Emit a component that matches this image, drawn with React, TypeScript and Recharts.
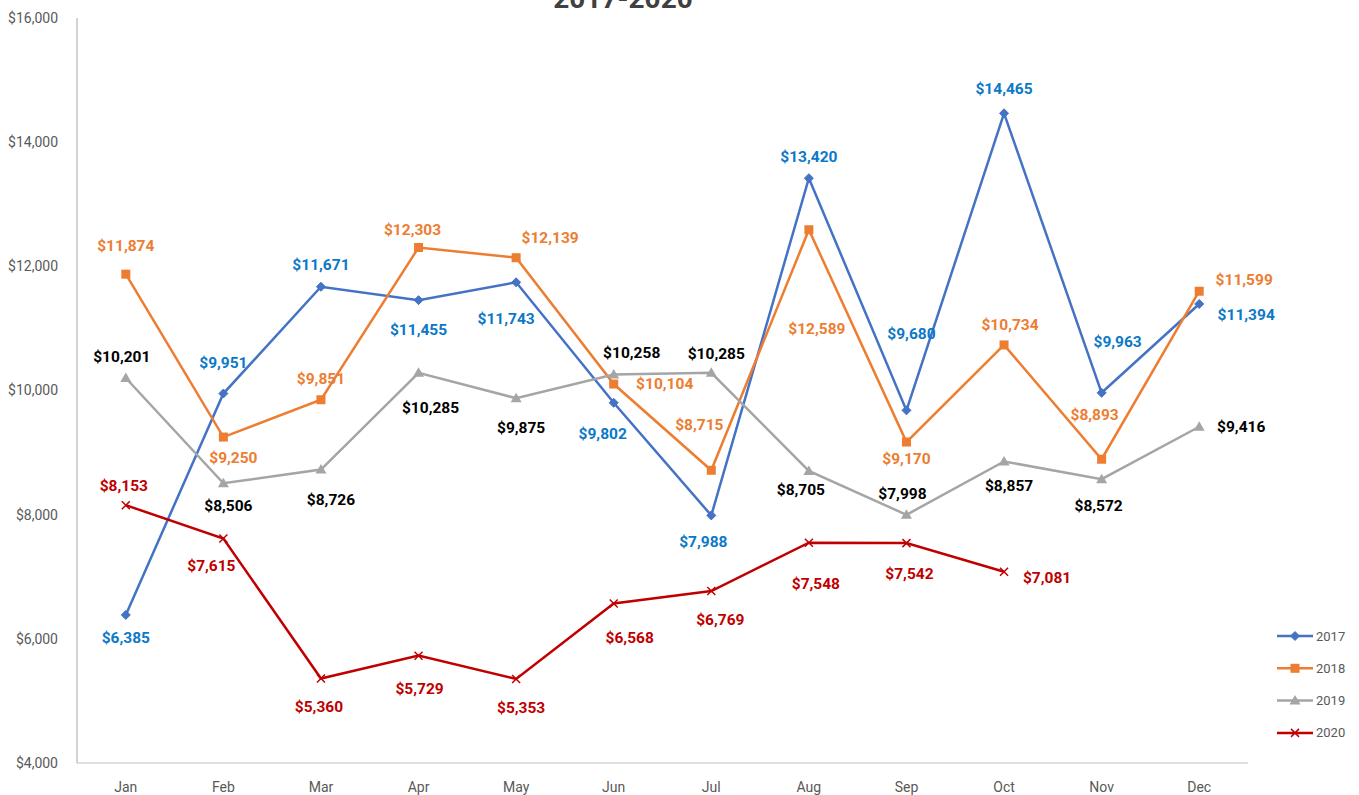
import React from 'react';
import { LineChart, Line, XAxis, YAxis, Legend, LabelList } from 'recharts';

const months = ['Jan', 'Feb', 'Mar', 'Apr', 'May', 'Jun', 'Jul', 'Aug', 'Sep', 'Oct', 'Nov', 'Dec'];
const sales2017 = [6385, 9951, 11671, 11455, 11743, 9802, 7988, 13420, 9680, 14465, 9963, 11394];
const sales2018 = [11874, 9250, 9851, 12303, 12139, 10104, 8715, 12589, 9170, 10734, 8893, 11599];
const sales2019 = [10201, 8506, 8726, 10285, 9875, 10258, 10285, 8705, 7998, 8857, 8572, 9416];
const sales2020: (number | null)[] = [8153, 7615, 5360, 5729, 5353, 6568, 6769, 7548, 7542, 7081, null, null];
const yTicks = [4000, 6000, 8000, 10000, 12000, 14000, 16000];
const title = '2017-2020';

// label placement (layout only): [dx, dy] from the point to the label centre
const off2017 = [[0, 23], [0, -31], [0, -22], [0, 30], [-10, 37], [-11, 31], [-8, 27], [0, -21], [5, -76], [0, -24], [16, -51], [47, 11]];
const off2018 = [[0, -28], [10, 21], [0, -21], [-6, -18], [34, -20], [51, 0], [-12, -45], [8, 99], [0, 17], [6, -20], [-7, -44], [45, -11]];
const off2019 = [[-4, -21], [5, 23], [10, 30], [12, 35], [5, 30], [18, -21], [5, -19], [-8, 19], [-4, -21], [5, 25], [-3, 27], [42, 0]];
const off2020 = [[-2, -19], [-12, 27], [-2, 28], [1, 33], [5, 29], [16, 34], [9, 29], [7, 41], [3, 31], [43, 6]];

const data = months.map((m, i) => ({
  month: m,
  y2017: sales2017[i],
  y2018: sales2018[i],
  y2019: sales2019[i],
  y2020: sales2020[i],
}));

const C17 = '#4472C4';
const C18 = '#ED7D31';
const C19 = '#A5A5A5';
const C20 = '#C00000';
const FONT = 'Roboto, "Liberation Sans", sans-serif';

const fmt = (v: number) => '$' + v.toLocaleString('en-US');

type MarkerKind = 'diamond' | 'square' | 'triangle' | 'x';

const Marker = ({ kind, cx, cy, color }: { kind: MarkerKind; cx: number; cy: number; color: string }) => {
  if (kind === 'diamond') {
    const r = 4.5;
    return <path d={`M${cx},${cy - r}L${cx + r},${cy}L${cx},${cy + r}L${cx - r},${cy}Z`} fill={color} stroke={color} />;
  }
  if (kind === 'square') {
    const r = 4.5;
    return <rect x={cx - r} y={cy - r} width={2 * r} height={2 * r} fill={color} />;
  }
  if (kind === 'triangle') {
    return <path d={`M${cx},${cy - 5.5}L${cx + 5.5},${cy + 4}L${cx - 5.5},${cy + 4}Z`} fill={color} />;
  }
  const r = 4;
  return (
    <path d={`M${cx - r},${cy - r}L${cx + r},${cy + r}M${cx + r},${cy - r}L${cx - r},${cy + r}`} stroke={color} strokeWidth={1.5} fill="none" />
  );
};

const makeDot = (kind: MarkerKind, color: string) => (props: any) => {
  const { cx, cy, index } = props;
  if (cx == null || cy == null || props.value == null) return <g key={`d-${kind}-${index}`} />;
  return (
    <g key={`d-${kind}-${index}`}>
      <Marker kind={kind} cx={cx} cy={cy} color={color} />
    </g>
  );
};

const makeLabel = (offsets: number[][], color: string) => (props: any) => {
  const { x, y, value, index } = props;
  if (value == null || x == null || y == null) return null;
  const o = offsets[index] || [0, -20];
  return (
    <text
      x={Number(x) + o[0]}
      y={Number(y) + o[1]}
      textAnchor="middle"
      dominantBaseline="central"
      fill={color}
      fontFamily={FONT}
      fontWeight={700}
      fontSize={15.5}
    >
      {fmt(Number(value))}
    </text>
  );
};

const legendKinds: Record<string, MarkerKind> = { y2017: 'diamond', y2018: 'square', y2019: 'triangle', y2020: 'x' };

const renderLegend = (props: any) => {
  const payload = props.payload || [];
  return (
    <svg width={89} height={130}>
      {payload.map((p: any, i: number) => {
        const cy = 10 + i * 32.3;
        return (
          <g key={p.value}>
            <line x1={7} x2={43} y1={cy} y2={cy} stroke={p.color} strokeWidth={2.5} />
            <Marker kind={legendKinds[p.dataKey]} cx={25} cy={cy} color={p.color} />
            <text x={46} y={cy} dominantBaseline="central" fontFamily={FONT} fontSize={13} fill="#595959">
              {p.value}
            </text>
          </g>
        );
      })}
    </svg>
  );
};

export default function App() {
  return (
    <div style={{ position: 'absolute', left: 0, top: 0, width: 1359, height: 795, background: '#fff', overflow: 'hidden' }}>
      <svg style={{ position: 'absolute', left: 0, top: 0 }} width={1359} height={40}>
        <text x={623} y={8} textAnchor="middle" fontFamily={FONT} fontWeight={700} fontSize={28} fill="#404040">
          {title}
        </text>
      </svg>
      <LineChart width={1359} height={795} data={data} margin={{ top: 18, right: 111, bottom: 0, left: 0 }}>
        <XAxis
          dataKey="month"
          scale="band"
          height={32}
          tickLine={false}
          tickSize={0}
          tickMargin={19}
          axisLine={{ stroke: '#BFBFBF', strokeWidth: 1 }}
          tick={{ fontFamily: FONT, fontSize: 14, fill: '#595959' }}
          interval={0}
        />
        <YAxis
          width={77}
          domain={[4000, 16000]}
          ticks={yTicks}
          tickFormatter={(v: number) => fmt(v)}
          tickLine={false}
          tickSize={0}
          tickMargin={19}
          axisLine={{ stroke: '#A6A6A6', strokeWidth: 1 }}
          tick={{ fontFamily: FONT, fontSize: 14, fill: '#595959' }}
          allowDataOverflow
        />
        <Legend
          layout="horizontal"
          verticalAlign="middle"
          align="center"
          content={renderLegend}
          wrapperStyle={{ left: 1270, top: 626, width: 89, height: 130 }}
        />
        <Line name="2017" dataKey="y2017" stroke={C17} strokeWidth={2.5} isAnimationActive={false} dot={makeDot('diamond', C17)} activeDot={false}>
          <LabelList dataKey="y2017" content={makeLabel(off2017, '#0B78C8')} />
        </Line>
        <Line name="2018" dataKey="y2018" stroke={C18} strokeWidth={2.5} isAnimationActive={false} dot={makeDot('square', C18)} activeDot={false}>
          <LabelList dataKey="y2018" content={makeLabel(off2018, C18)} />
        </Line>
        <Line name="2019" dataKey="y2019" stroke={C19} strokeWidth={2.5} isAnimationActive={false} dot={makeDot('triangle', C19)} activeDot={false}>
          <LabelList dataKey="y2019" content={makeLabel(off2019, '#000000')} />
        </Line>
        <Line name="2020" dataKey="y2020" stroke={C20} strokeWidth={2.5} isAnimationActive={false} dot={makeDot('x', C20)} activeDot={false}>
          <LabelList dataKey="y2020" content={makeLabel(off2020, C20)} />
        </Line>
      </LineChart>
    </div>
  );
}
